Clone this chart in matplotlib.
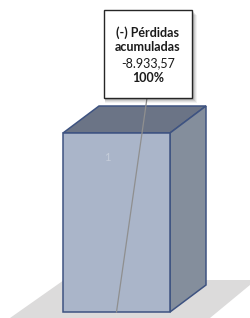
import matplotlib.pyplot as plt
from matplotlib.patches import Polygon, Rectangle

categorias = ['1']
valores = [-8933.57]
porcentajes = [100]
etiquetas = ['(-) Pérdidas\nacumuladas']


def formato_es(v):
    s = f'{v:,.2f}'
    return s.replace(',', 'X').replace('.', ',').replace('X', '.')


plt.rcParams['font.family'] = ['Lato', 'DejaVu Sans']

fig = plt.figure(figsize=(2.51, 3.18), dpi=100)
ax = fig.add_axes([0, 0, 1, 1])
ax.axis('off')

alto = max(abs(v) for v in valores)
# escala en pixeles: 107 px por categoria, 179 px para la barra mas alta
ux = 1 / 107
uy = alto / 179
ax.set_xlim(-0.5 - 63 * ux, len(categorias) - 0.5 + 81 * ux)
ax.set_ylim(-6 * uy, 312 * uy)

c_frente = '#aab5c9'
c_arriba = '#6b7486'
c_lado = '#848e9c'
c_borde = '#3e5381'
dx, dy = 36 * ux, 27 * uy

for i, (cat, v, p, et) in enumerate(zip(categorias, valores, porcentajes, etiquetas)):
    h = abs(v)
    x0, x1 = i - 0.5, i + 0.5

    # suelo
    suelo = [(x0 - 53 * ux, -6 * uy), (x0 + 1 * ux, 32 * uy),
             (x1 + 86 * ux, 32 * uy), (x1 + 40 * ux, -6 * uy)]
    ax.add_patch(Polygon(suelo, closed=True, fc='#dcdbdb', ec='none', zorder=0))

    # barra 3D
    ax.add_patch(Rectangle((x0, 0), x1 - x0, h, fc=c_frente, ec=c_borde, lw=1.1, zorder=2))
    ax.add_patch(Polygon([(x0, h), (x0 + dx, h + dy), (x1 + dx, h + dy), (x1, h)],
                         fc=c_arriba, ec=c_borde, lw=1.1, zorder=1))
    ax.add_patch(Polygon([(x1, 0), (x1 + dx, dy), (x1 + dx, h + dy), (x1, h)],
                         fc=c_lado, ec=c_borde, lw=1.1, zorder=1))

    ax.text(x0 + 44 * ux, h - 25 * uy, cat, color='#c5ccd9', fontsize=8,
            ha='center', va='center', zorder=3)

    # caja de la etiqueta
    bx0, bx1 = i - 12.5 * ux, i + 75.5 * ux
    by0, by1 = 214 * uy, 302 * uy
    ax.plot([i, i + 30.5 * ux], [0, by0], color='#8f8f8f', lw=0.9, zorder=4)
    for k, a in [(5, 0.05), (4, 0.07), (3, 0.09), (2, 0.12)]:
        ax.add_patch(Rectangle((bx0 + 1 * ux, by0 - k * uy), bx1 - bx0 + (k - 1) * ux,
                               by1 - by0, fc='black', ec='none', alpha=a, zorder=5))
    ax.add_patch(Rectangle((bx0, by0), bx1 - bx0, by1 - by0, fc='white',
                           ec='#262626', lw=1.0, zorder=6))

    cx = (bx0 + bx1) / 2
    lineas = et.split('\n')
    ax.text(cx, 279 * uy, lineas[0], fontsize=9, fontweight='bold', color='#1a1a1a',
            ha='center', va='center', zorder=7)
    ax.text(cx, 265 * uy, lineas[1], fontsize=9, fontweight='bold', color='#1a1a1a',
            ha='center', va='center', zorder=7)
    ax.text(cx, 249 * uy, formato_es(v), fontsize=9, color='#1a1a1a',
            ha='center', va='center', zorder=7)
    ax.text(cx, 234 * uy, f'{p}%', fontsize=9, fontweight='bold', color='#1a1a1a',
            ha='center', va='center', zorder=7)

fig.savefig('out.png', dpi=100)
